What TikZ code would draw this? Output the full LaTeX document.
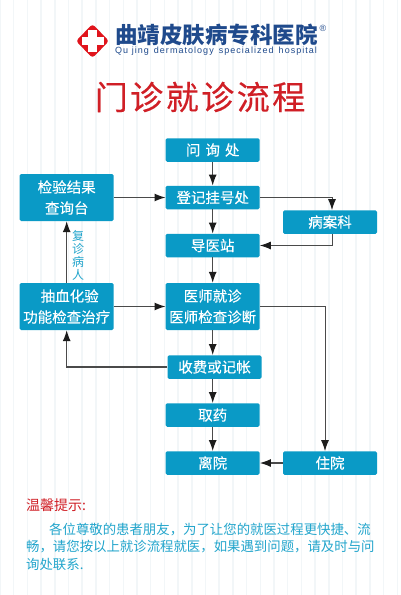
\documentclass[tikz,border=0pt]{standalone}
\usepackage{xcolor}
\usepackage{fontspec}
\setmainfont{Noto Sans CJK SC}
\newfontfamily\boxfont[FakeBold=0.3]{Noto Sans CJK SC}
\newfontfamily\latinfont[LetterSpace=11.5]{Liberation Sans}
\usetikzlibrary{arrows.meta}
\definecolor{boxblue}{HTML}{0A9AC6}
\definecolor{logoblue}{HTML}{1F4A8C}
\definecolor{logored}{HTML}{E0141C}
\definecolor{titlered}{HTML}{D01F26}
\definecolor{tipteal}{HTML}{22A5CC}
\definecolor{stripe}{HTML}{F2F6F8}
\definecolor{linegray}{HTML}{4A4A4A}
\definecolor{tipblack}{HTML}{1C1C1C}
\tikzset{
    flowbox/.style={fill=boxblue, rounded corners=1.5pt, text=white, font=\boxfont\fontsize{14.5}{21}\selectfont,
        minimum width=94pt, minimum height=23.5pt, inner sep=0pt, align=center},
    tallbox/.style={flowbox, minimum height=47pt},
    link/.style={draw=linegray, line width=1.1pt, -{Latex[length=11pt,width=8pt,color=tipblack]}},
    thinlink/.style={link, line width=0.8pt},
    tipline/.style={anchor=base west, text=tipteal, font=\fontsize{13.4}{13.4}\selectfont, inner sep=0pt}
}

\begin{document}
\begin{tikzpicture}[x=1pt, y=-1pt]

    \useasboundingbox (0, 0) rectangle (400, 595);

    % Background stripes
    \fill[white] (0, 0) rectangle (400, 595);
    \foreach \x in {0, 13.7, ..., 400} {
        \draw[stripe, line width=1.5pt] (\x, 0) -- (\x, 595);
    }

    % Logo
    \fill[logored, rounded corners=3pt] (92.5, 24) -- (109, 41) -- (92.5, 58) -- (76, 41) -- cycle;
    \fill[white] (88.3, 30) rectangle (96.7, 52);
    \fill[white] (81.5, 36.8) rectangle (103.5, 45.2);
    \node[anchor=west, inner sep=0pt, text=logoblue, font=\fontsize{22.5}{22.5}\selectfont\bfseries] (hospital) at (115, 35) {曲靖皮肤病专科医院};
    \node[anchor=west, inner sep=0pt, text=logoblue, font=\latinfont\fontsize{9}{9}\selectfont] (hospitalen) at (115, 51) {Qu jing\, dermatology\, specialized\, hospital};
    \node[inner sep=0pt, text=logoblue, font=\latinfont\fontsize{9}{9}\selectfont] (regmark) at (323, 28) {®};

    % Title
    \node[inner sep=0pt, text=titlered, font=\boxfont\fontsize{33}{33}\selectfont] (title) at (200, 97) {门\kern2.5pt 诊\kern2.5pt 就\kern2.5pt 诊\kern2.5pt 流\kern2.5pt 程};

    % Centre column
    \node[flowbox] (ask) at (212.7, 150) {问\kern5pt 询\kern5pt 处};
    \node[flowbox] (register) at (212.7, 197.5) {登记挂号处};
    \node[flowbox] (guide) at (212.7, 245.5) {导医站};
    \node[tallbox] (doctor) at (212.7, 306.5) {医师就诊\\医师检查诊断};
    \node[flowbox] (fee) at (214.5, 367) {收费或记帐};
    \node[flowbox] (medicine) at (212.7, 415) {取药};
    \node[flowbox] (leave) at (212.7, 463) {离院};

    % Left and right columns
    \node[tallbox] (result) at (66.7, 197.5) {检验结果\\查询台};
    \node[tallbox] (test) at (66.7, 306.5) {\kern6pt 抽血化验\\功能检查治疗};
    \node[flowbox] (records) at (330, 222) {病案科};
    \node[flowbox] (ward) at (330, 463) {住院};

    % Connectors
    \draw[link] (ask) -- (register);
    \draw[link] (register) -- (guide);
    \draw[link] (guide) -- (doctor);
    \draw[link] (doctor) -- (doctor.south |- fee.north);
    \draw[link] (doctor.south |- fee.south) -- (medicine);
    \draw[link] (medicine) -- (leave);
    \draw[link] (result) -- (register);
    \draw[link] (test) -- (doctor);
    \draw[link] (test) -- (result);
    \draw[link] (ward) -- (leave);
    \draw[link] (fee.west) -| (test.south);
    \draw[thinlink] (register.east) -| ([xshift=2pt]records.north);
    \draw[thinlink] ([xshift=2pt]records.south) |- (guide.east);
    \draw[thinlink] (doctor.east) -| ([xshift=-5pt]ward.north);

    % Side label
    \node[inner sep=0pt, text=tipteal, font=\fontsize{12}{13}\selectfont, align=center] (revisit) at (78, 255.5) {复\\诊\\病\\人};

    % Notice
    \node[anchor=base west, inner sep=0pt, text=titlered, font=\fontsize{14}{14}\selectfont] (notice) at (26, 510) {温馨提示:};
    \node[tipline] (noticea) at (49, 534) {各位尊敬的患者朋友，为了让您的就医过程更快捷、流};
    \node[tipline] (noticeb) at (26, 551.5) {畅，请您按以上就诊流程就医，如果遇到问题，请及时与问};
    \node[tipline] (noticec) at (26, 569) {询处联系.};

\end{tikzpicture}
\end{document}
